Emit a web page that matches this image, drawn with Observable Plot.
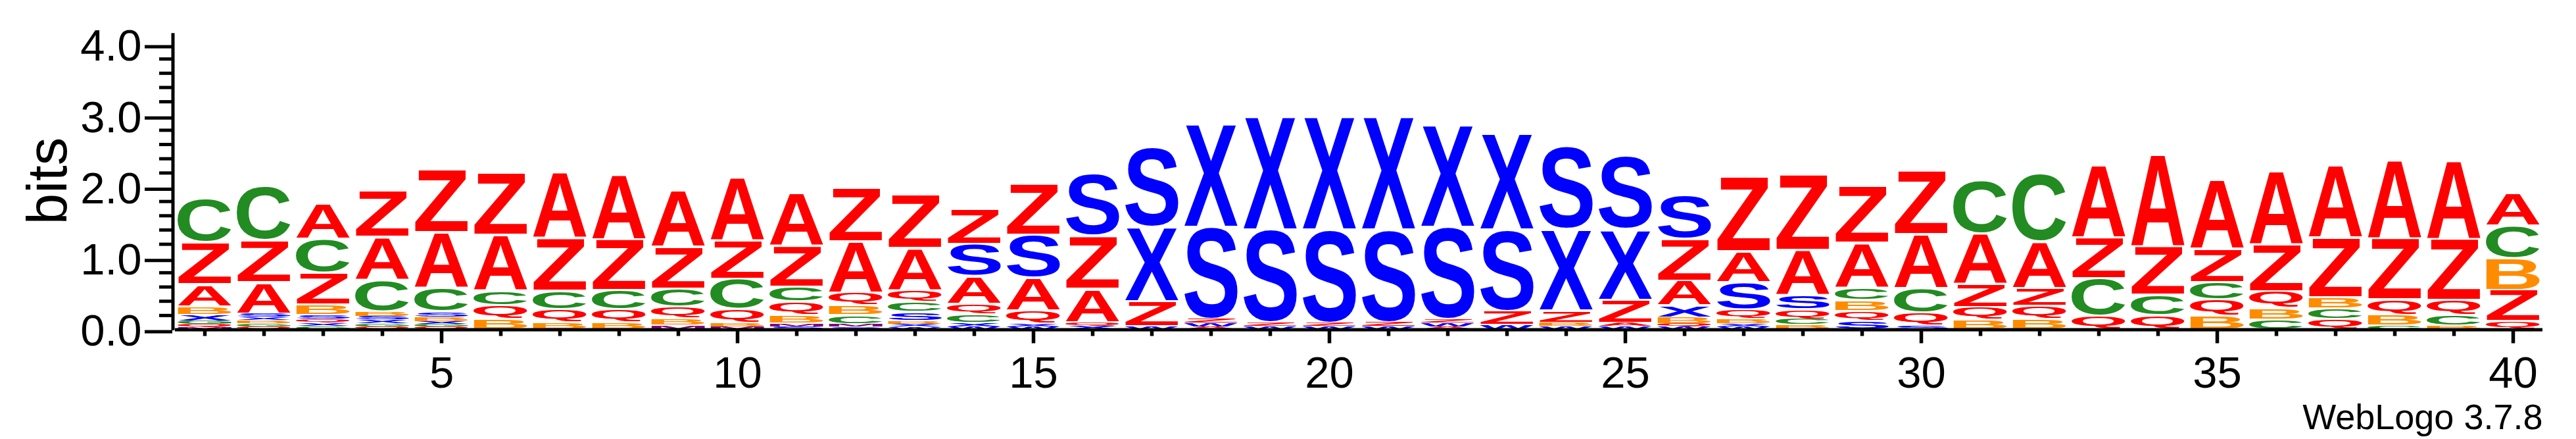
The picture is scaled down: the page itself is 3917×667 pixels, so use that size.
<!DOCTYPE html>
<html><head><meta charset="utf-8">
<script src="https://cdn.jsdelivr.net/npm/d3@7"></script>
<script src="https://cdn.jsdelivr.net/npm/@observablehq/plot@0.6"></script>
<style>body{margin:0;background:#fff} svg{display:block}</style>
</head><body><div id="chart"></div>
<script>
// sequence positions
const positions = d3.range(1, 41);
// information (bits) per letter at each position 1..40
const A = [.31,.44,.50,.61,.79,.785,.925,.915,.795,.89,.75,.72,.59,.39,.46,.465,0,.04,0,0,0,.04,0,0,.05,.348,.434,.637,.628,.757,.708,.651,1.022,1.30,.976,1.032,1.028,1.111,1.111,.46];
const Z = [.59,.59,.44,.65,.885,.87,.74,.71,.59,.535,.575,.75,.75,.49,.715,.745,.35,.06,.055,.05,.06,.055,.2,.174,.323,.585,1.044,1.057,.795,.887,.326,.249,.573,.674,.471,.659,.836,.859,.859,.44];
const C = [.61,.76,.48,.44,.33,.2,.26,.27,.26,.425,.21,.13,.135,.125,0,0,0,0,0,0,0,0,0,0,0,0,0,.074,.18,.342,.748,.956,.529,.286,.245,.139,.15,.055,.15,.455];
const Q = [.045,.04,.052,.04,.036,.19,.185,.185,.165,.2,.185,.175,.165,.145,.185,.055,0,0,0,0,0,0,0,0,0,.045,.13,.139,.14,.176,.176,.185,.194,.203,.226,.236,.145,.212,.212,.115];
const B = [.12,.044,.15,.06,.065,.15,.10,.10,.10,.05,.12,.14,.045,0,0,0,0,0,0,0,0,0,0,.05,0,.083,.065,.07,.15,0,.139,.148,0,0,.194,.162,.16,.157,.055,.445];
const S = [0,.05,.058,.055,.07,0,0,0,0,0,.04,.035,.13,.45,.6,.87,1.127,1.293,1.307,1.31,1.30,1.293,1.14,1.16,1.028,.616,.38,.194,.12,.06,0,0,0,0,0,0,0,0,0,0];
const X = [.08,.046,.048,.05,.04,0,0,0,0,0,0,0,.04,.05,.045,.05,1.044,1.453,1.597,1.597,1.597,1.447,1.357,1.15,.993,.17,.045,0,0,0,0,0,0,0,0,0,0,0,0,0];
const W = [0,0,0,0,0,0,0,0,0,0,0,0,.035,.04,.04,0,.045,.05,.045,.045,.045,.05,.06,.045,.045,.04,.04,0,0,0,0,0,0,0,0,0,0,0,0,0];
const G = [.05,.042,.044,.045,.038,0,0,0,0,0,0,0,0,0,0,0,0,0,0,0,0,0,0,0,0,0,0,0,0,0,0,0,0,0,0,0,0,0,0,0];
const M = [.03,0,0,0,0,0,0,0,.05,.04,.045,.04,0,0,0,0,0,0,0,0,0,0,0,0,0,0,0,0,0,0,0,0,0,0,0,0,0,0,0,0];
// tick values and labels
const yMajorTicks = [0, 1, 2, 3, 4];
const yMinorTicks = d3.range(1, 20).filter(i => i % 5).map(i => i / 5);
const xMajorTicks = [5, 10, 15, 20, 25, 30, 35, 40];
const xMinorTicks = positions.filter(p => p % 5);
const yLabel = "bits";
const credit = "WebLogo 3.7.8";

const series = {A, Z, Q, C, G, B, S, X, W, M};
const colors = {A:"#ff0000", Z:"#ff0000", Q:"#ff0000", C:"#228b22", G:"#228b22", B:"#ff8c00", S:"#0000ff", X:"#0000ff", W:"#0000ff", M:"#800080"};

const rows = [];
for (const p of positions) {
  const items = Object.keys(series).map(k => ({letter: k, v: series[k][p - 1]}))
    .filter(d => d.v > 0).sort((a, b) => a.v - b.v);
  let y = 0;
  for (const it of items) { rows.push({pos: p, letter: it.letter, y1: y, y2: y + it.v}); y += it.v; }
}

const FONT = "'Liberation Sans', Arial, Helvetica, sans-serif";
const ctx = document.createElement("canvas").getContext("2d");
ctx.font = `bold 100px ${FONT}`;
ctx.textAlign = "left";
ctx.textBaseline = "alphabetic";
const metrics = {};
for (const k of Object.keys(series)) {
  const m = ctx.measureText(k);
  metrics[k] = {l: m.actualBoundingBoxLeft, r: m.actualBoundingBoxRight, a: m.actualBoundingBoxAscent, d: m.actualBoundingBoxDescent};
}

const chart = Plot.plot({
  width: 3917, height: 667,
  marginLeft: 266, marginRight: 51, marginTop: 67.5, marginBottom: 166.5,
  x: {domain: [0.5, 40.5]},
  y: {domain: [0, 4]},
  style: {fontFamily: FONT, background: "white", color: "black"},
  marks: [
    Plot.rect(rows, {
      x1: d => d.pos - 0.455, x2: d => d.pos + 0.455, y1: "y1", y2: "y2",
      fill: d => colors[d.letter],
      render(index, scales, values) {
        const g = d3.create("svg:g").attr("text-anchor", "start");
        for (const i of index) {
          const d = rows[i], m = metrics[d.letter];
          const x0 = Math.min(values.x1[i], values.x2[i]), x1 = Math.max(values.x1[i], values.x2[i]);
          let yt = Math.min(values.y1[i], values.y2[i]), yb = Math.max(values.y1[i], values.y2[i]);
          const ins = (yb - yt) > 10 ? 1.6 : 0.4;
          yt += ins; yb -= ins;
          const w = x1 - x0, h = Math.max(0.6, yb - yt);
          const sx = w / (m.l + m.r), sy = h / (m.a + m.d);
          g.append("text")
            .attr("transform", `translate(${x0 + m.l * sx},${yb - m.d * sy}) scale(${sx},${sy})`)
            .attr("text-anchor", "start")
            .attr("font-family", FONT).attr("font-weight", "bold").attr("font-size", 100)
            .attr("fill", colors[d.letter]).text(d.letter);
        }
        return g.node();
      }
    }),
    Plot.ruleY([0], {strokeWidth: 5}),
    Plot.ruleX([0.461], {y1: -0.012, y2: 4.16, strokeWidth: 5}),
    Plot.axisY({ticks: yMajorTicks, tickSize: 42, tickPadding: 5, dx: -4, dy: 3, tickFormat: d3.format(".1f"), fontSize: 67, strokeWidth: 5, label: null}),
    Plot.axisY({ticks: yMinorTicks, tickSize: 20, dx: -4, tickFormat: () => "", strokeWidth: 5, label: null}),
    Plot.axisX({ticks: xMajorTicks, tickSize: 21, tickPadding: 19.5, fontSize: 67, strokeWidth: 5.5, label: null, tickFormat: d3.format("d")}),
    Plot.axisX({ticks: xMinorTicks, tickSize: 10, tickFormat: () => "", strokeWidth: 5.5, label: null}),
    Plot.text([yLabel], {frameAnchor: "left", dx: -165.6, dy: -9.5, rotate: -90, fontSize: 85, textAnchor: "middle", lineAnchor: "bottom", fill: "black"}),
    Plot.text([credit], {frameAnchor: "bottom-right", dy: 151, textAnchor: "end", lineAnchor: "bottom", fontSize: 54, fill: "black"})
  ]
});
document.getElementById("chart").appendChild(chart);
</script>
</body></html>
